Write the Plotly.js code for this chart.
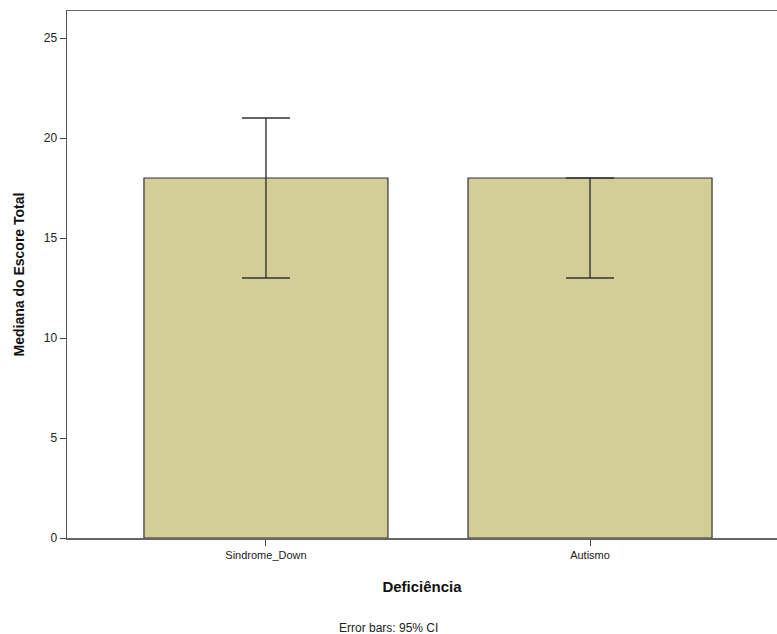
<!DOCTYPE html>
<html>
<head>
<meta charset="utf-8">
<script src="https://cdn.plot.ly/plotly-3.0.1.min.js"></script>
<style>html,body{margin:0;padding:0;background:#fff;}#chart{width:777px;height:634px;}</style>
</head>
<body>
<div id="chart"></div>
<script>
var categories = ["Sindrome_Down", "Autismo"];
var medians = [18, 18];
var ciUpper = [21, 18];
var ciLower = [13, 13];
var yTicks = [0, 5, 10, 15, 20, 25];

var errPlus = medians.map(function(m, i){ return ciUpper[i] - m; });
var errMinus = medians.map(function(m, i){ return m - ciLower[i]; });

var trace = {
  type: "bar",
  x: [0, 1],
  y: medians,
  width: 0.753,
  marker: {color: "#d3ce97", line: {color: "#333333", width: 1.2}},
  error_y: {type: "data", symmetric: false, array: errPlus, arrayminus: errMinus,
            color: "#333333", thickness: 1.4, width: 24},
  hoverinfo: "none"
};

var font = "Liberation Sans, Arial, sans-serif";
var layout = {
  width: 777, height: 634,
  margin: {l: 67, r: 0, t: 11, b: 96},
  paper_bgcolor: "#ffffff", plot_bgcolor: "#ffffff",
  showlegend: false,
  bargap: 0,
  xaxis: {
    range: [-0.614, 1.577],
    tickvals: [0, 1], ticktext: categories,
    ticks: "outside", ticklen: 6, tickcolor: "#444", tickwidth: 1,
    showline: true, linecolor: "#666666", linewidth: 1.5, mirror: true,
    showgrid: false, zeroline: false,
    tickfont: {family: font, size: 11, color: "#222"},
    title: {text: "<b>Deficiência</b>", font: {family: font, size: 15, color: "#111"}, standoff: 22}
  },
  yaxis: {
    range: [0, 26.35],
    tickvals: yTicks,
    ticks: "outside", ticklen: 6, tickcolor: "#444", tickwidth: 1,
    showline: true, linecolor: "#555555", linewidth: 1.5,
    showgrid: false, zeroline: false,
    tickfont: {family: font, size: 12, color: "#222"},
    title: {text: "<b>Mediana do Escore Total</b>", font: {family: font, size: 14, color: "#111"}, standoff: 16}
  },
  annotations: [{
    text: "Error bars: 95% CI", xref: "paper", yref: "paper",
    x: (388 - 67) / 710, y: -0.17, xanchor: "center", yanchor: "middle",
    showarrow: false, font: {family: font, size: 12, color: "#222"}
  }]
};

Plotly.newPlot("chart", [trace], layout, {displayModeBar: false, staticPlot: true});
</script>
</body>
</html>
